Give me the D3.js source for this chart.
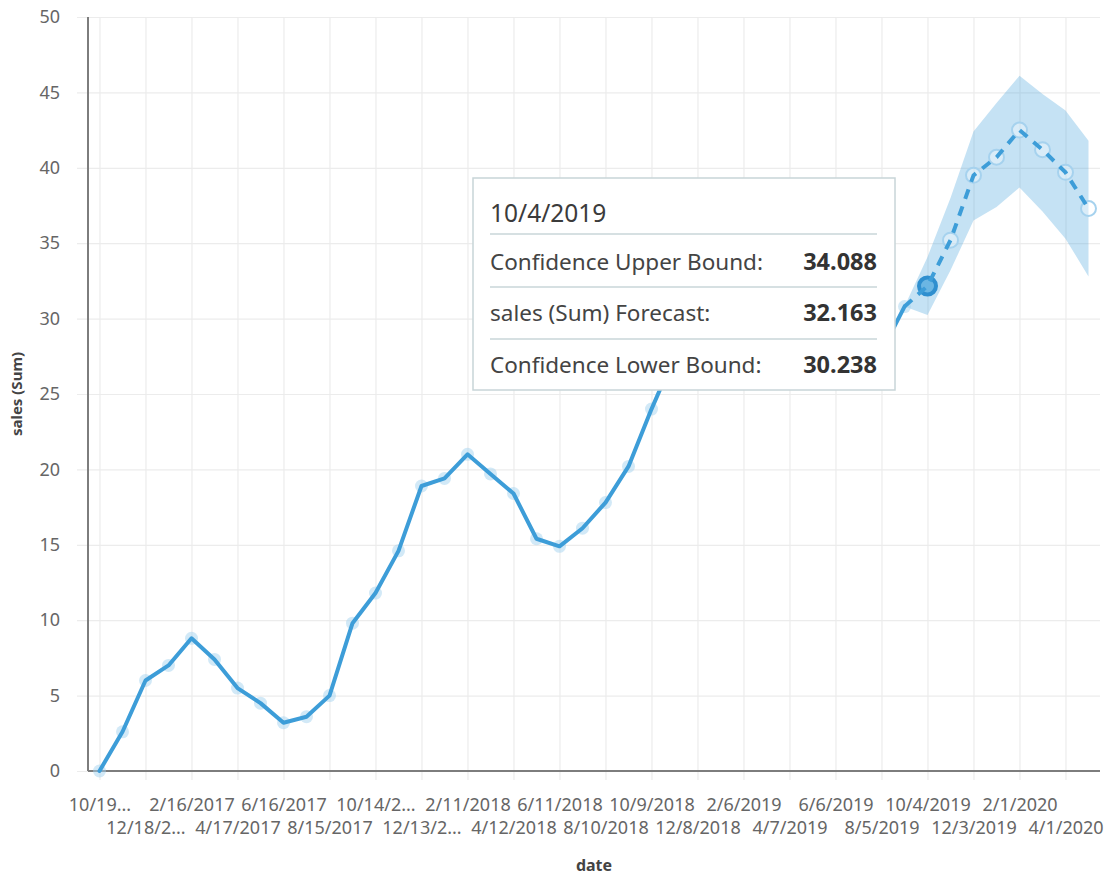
<!DOCTYPE html>
<html>
<head>
<meta charset="utf-8">
<script src="https://cdn.jsdelivr.net/npm/d3@7"></script>
<style>
  html, body { margin: 0; padding: 0; background: #fff; }
  svg { display: block; font-family: "Noto Sans", "Open Sans", sans-serif; }
</style>
</head>
<body>
<svg id="chart" width="1109" height="877"></svg>
<script>
// ---- data ----
const dates = [
  "10/19/2016","11/18/2016","12/18/2016","1/17/2017","2/16/2017","3/18/2017","4/17/2017","5/17/2017",
  "6/16/2017","7/16/2017","8/15/2017","9/14/2017","10/14/2017","11/13/2017","12/13/2017","1/12/2018",
  "2/11/2018","3/13/2018","4/12/2018","5/12/2018","6/11/2018","7/11/2018","8/10/2018","9/9/2018",
  "10/9/2018","11/8/2018","12/8/2018","1/7/2019","2/6/2019","3/8/2019","4/7/2019","5/7/2019",
  "6/6/2019","7/6/2019","8/5/2019","9/4/2019","10/4/2019","11/3/2019","12/3/2019","1/2/2020",
  "2/1/2020","3/2/2020","4/1/2020","5/1/2020"
];
// actual sales (Sum), 10/19/2016 .. 9/4/2019
const actualSales = [
  0.0, 2.6, 6.0, 7.0, 8.8, 7.4, 5.5, 4.5, 3.2, 3.6, 5.0, 9.8, 11.8, 14.6, 18.9, 19.4,
  21.0, 19.7, 18.4, 15.4, 14.9, 16.1, 17.8, 20.2, 24.0, 27.5, 28.6, 27.9, 29.2, 30.1,
  29.0, 28.3, 29.6, 28.8, 27.8, 30.8
];
// forecast, 9/4/2019 .. 5/1/2020
const forecastDates = ["9/4/2019","10/4/2019","11/3/2019","12/3/2019","1/2/2020","2/1/2020","3/2/2020","4/1/2020","5/1/2020"];
const forecastSales = [30.8, 32.163, 35.2, 39.5, 40.7, 42.5, 41.2, 39.7, 37.3];
const upperBound    = [30.8, 34.088, 38.0, 42.4, 44.3, 46.1, 44.9, 43.8, 41.8];
const lowerBound    = [30.8, 30.238, 33.2, 36.5, 37.4, 38.7, 37.1, 35.3, 32.8];
// x tick labels (every other date) as displayed
const tickDates  = ["10/19/2016","12/18/2016","2/16/2017","4/17/2017","6/16/2017","8/15/2017","10/14/2017","12/13/2017",
  "2/11/2018","4/12/2018","6/11/2018","8/10/2018","10/9/2018","12/8/2018","2/6/2019","4/7/2019","6/6/2019",
  "8/5/2019","10/4/2019","12/3/2019","2/1/2020","4/1/2020"];
const tickLabels = ["10/19...","12/18/2...","2/16/2017","4/17/2017","6/16/2017","8/15/2017","10/14/2...","12/13/2...",
  "2/11/2018","4/12/2018","6/11/2018","8/10/2018","10/9/2018","12/8/2018","2/6/2019","4/7/2019","6/6/2019",
  "8/5/2019","10/4/2019","12/3/2019","2/1/2020","4/1/2020"];
const yTicks = [0, 5, 10, 15, 20, 25, 30, 35, 40, 45, 50];
const highlightDate = "10/4/2019";
const tooltipRows = [
  ["Confidence Upper Bound:", "34.088"],
  ["sales (Sum) Forecast:", "32.163"],
  ["Confidence Lower Bound:", "30.238"]
];

// ---- layout ----
const L = 88, R = 1100, T = 17, B = 771;
const svg = d3.select("#chart");
const x = d3.scalePoint().domain(dates).range([L, R]).padding(0.5);
const y = d3.scaleLinear().domain([0, 50]).range([B, T]);

const blue = "#3d9dd8";
const grid = "#ececec";
const axisGray = "#7d7d7d";
const textGray = "#666666";

// y axis with horizontal grid
const yAxis = svg.append("g").attr("transform", `translate(77,0)`)
  .call(d3.axisLeft(y).tickValues(yTicks).tickSize(-(R - 77)).tickPadding(17));
yAxis.select(".domain").remove();
yAxis.selectAll(".tick line").attr("stroke", grid).attr("stroke-width", 1.2);
yAxis.selectAll(".tick text").attr("fill", textGray).attr("font-size", 18)
  .attr("font-family", "Noto Sans, sans-serif");

// x axis with vertical grid
const xAxis = svg.append("g").attr("transform", `translate(0,780)`)
  .call(d3.axisBottom(x).tickValues(tickDates).tickSize(-(780 - T)).tickPadding(0));
xAxis.select(".domain").remove();
xAxis.selectAll(".tick line").attr("stroke", grid).attr("stroke-width", 1.2);
xAxis.selectAll(".tick text")
  .text((d, i) => tickLabels[i])
  .attr("fill", textGray).attr("font-size", 18).attr("font-family", "Noto Sans, sans-serif")
  .attr("y", (d, i) => i % 2 === 0 ? 25 : 48)
  .attr("dy", "0.32em");

// axis lines
svg.append("line").attr("x1", L).attr("x2", L).attr("y1", T).attr("y2", B)
  .attr("stroke", axisGray).attr("stroke-width", 2);
svg.append("line").attr("x1", L).attr("x2", R).attr("y1", B).attr("y2", B)
  .attr("stroke", axisGray).attr("stroke-width", 2);

// axis titles
svg.append("text").attr("transform", `translate(22,${(T + B) / 2}) rotate(-90)`)
  .attr("text-anchor", "middle").attr("font-size", 15).attr("font-weight", "bold")
  .attr("fill", "#444").text("sales (Sum)");
svg.append("text").attr("x", (L + R) / 2).attr("y", 871)
  .attr("text-anchor", "middle").attr("font-size", 16).attr("font-weight", "bold")
  .attr("fill", "#444").text("date");

// confidence band
const band = forecastDates.map((d, i) => ({ d, hi: upperBound[i], lo: lowerBound[i] }));
svg.append("path").datum(band)
  .attr("d", d3.area().x(p => x(p.d)).y0(p => y(p.lo)).y1(p => y(p.hi)))
  .attr("fill", "#4aa6de").attr("fill-opacity", 0.32);

// actual halos + line
const actual = actualSales.map((v, i) => ({ d: dates[i], v }));
svg.append("g").selectAll("circle").data(actual).join("circle")
  .attr("cx", p => x(p.d)).attr("cy", p => y(p.v)).attr("r", 6.5)
  .attr("fill", "#a6d3ef").attr("fill-opacity", 0.5);
svg.append("path").datum(actual)
  .attr("d", d3.line().x(p => x(p.d)).y(p => y(p.v)))
  .attr("fill", "none").attr("stroke", blue).attr("stroke-width", 4)
  .attr("stroke-linejoin", "round").attr("stroke-linecap", "round");

// forecast
const fc = forecastDates.map((d, i) => ({ d, v: forecastSales[i] }));
svg.append("g").selectAll("circle").data(fc.slice(1)).join("circle")
  .attr("cx", p => x(p.d)).attr("cy", p => y(p.v)).attr("r", 7.5)
  .attr("fill", "#ffffff").attr("fill-opacity", 0.35)
  .attr("stroke", "#a6d2ee").attr("stroke-width", 2);
// highlighted point
const hi = fc.find(p => p.d === highlightDate);
svg.append("circle").attr("cx", x(hi.d)).attr("cy", y(hi.v)).attr("r", 8.5)
  .attr("fill", "#6bb6e3").attr("stroke", "#2f8fcf").attr("stroke-width", 4);
svg.append("path").datum(fc)
  .attr("d", d3.line().x(p => x(p.d)).y(p => y(p.v)))
  .attr("fill", "none").attr("stroke", blue).attr("stroke-width", 4)
  .attr("stroke-dasharray", "10 8");

// tooltip
const tt = svg.append("g");
tt.append("rect").attr("x", 473).attr("y", 178).attr("width", 422).attr("height", 212)
  .attr("fill", "#fff").attr("stroke", "#c8d5d8").attr("stroke-width", 1.5);
tt.append("text").attr("x", 490).attr("y", 222).attr("font-size", 24.5)
  .attr("fill", "#3b3b3b").text(highlightDate);
const sepY = [234, 287, 339];
sepY.forEach(sy => tt.append("line").attr("x1", 490).attr("x2", 877).attr("y1", sy).attr("y2", sy)
  .attr("stroke", "#c9d6d9").attr("stroke-width", 1.5));
const rowY = [270, 321, 373];
tooltipRows.forEach((r, i) => {
  tt.append("text").attr("x", 490).attr("y", rowY[i]).attr("font-size", 22.5)
    .attr("fill", "#444").text(r[0]);
  tt.append("text").attr("x", 877).attr("y", rowY[i]).attr("font-size", 23.5)
    .attr("text-anchor", "end").attr("font-weight", "bold").attr("fill", "#333").text(r[1]);
});
</script>
</body>
</html>
